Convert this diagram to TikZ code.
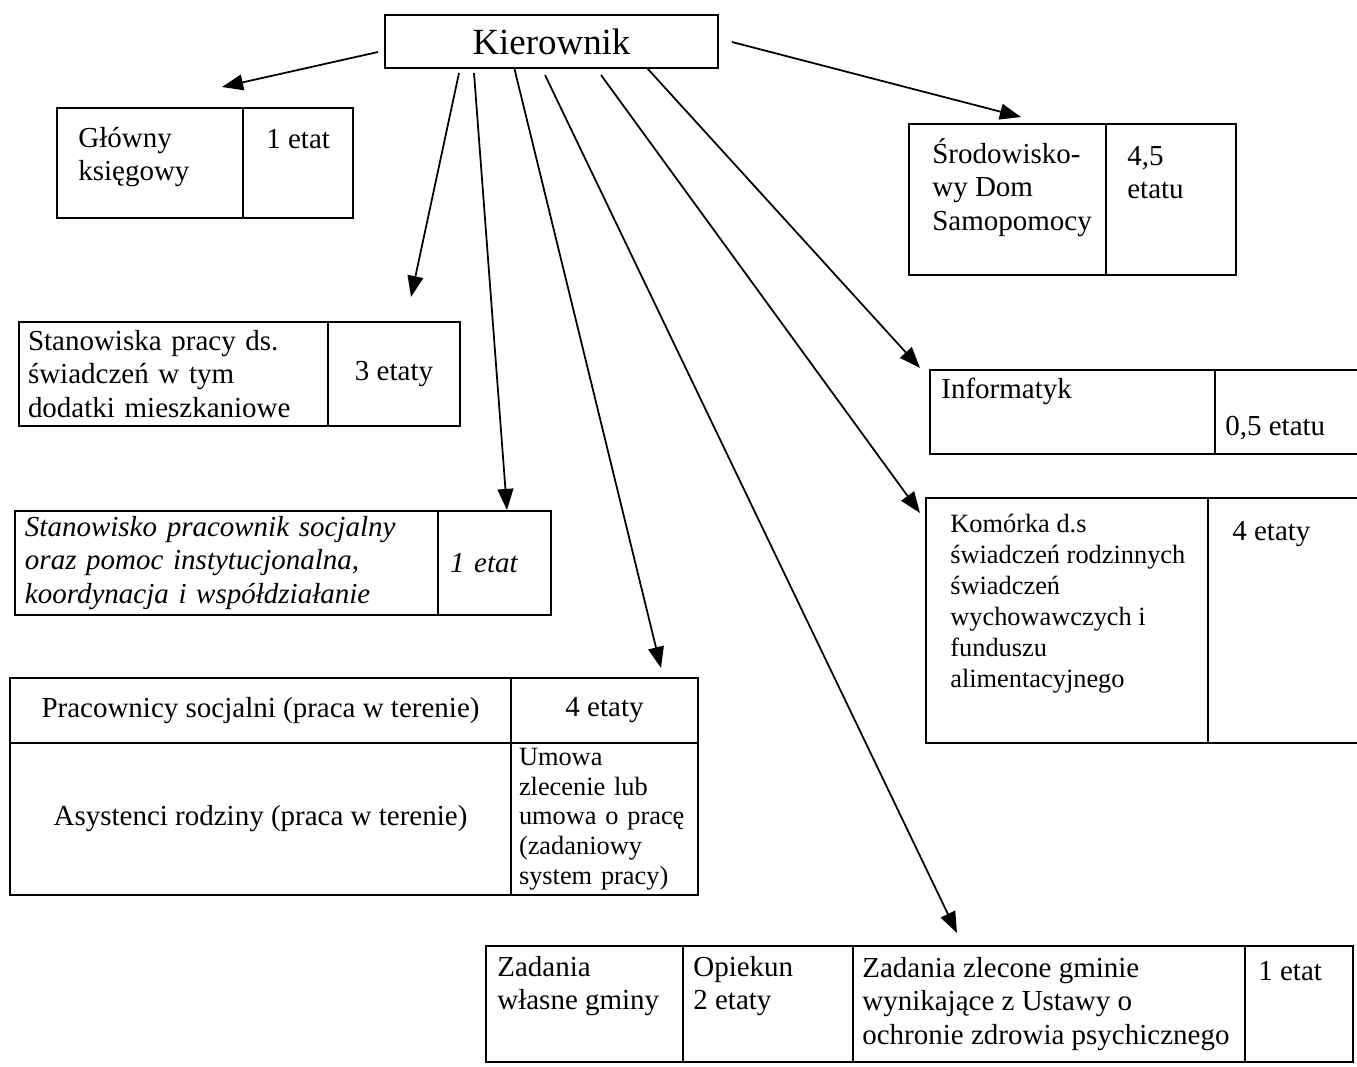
\documentclass[tikz,border=0pt]{standalone}
\usepackage{fontspec}
\setmainfont{Liberation Serif}
\usetikzlibrary{positioning, arrows.meta}
\newcommand{\orgfont}{\fontsize{16.5}{19}\selectfont}
\newcommand{\smallorgfont}{\fontsize{15}{17.6}\selectfont}

\begin{document}
\begin{tikzpicture}[
          orgbox/.style={draw, rectangle, line width=1.3pt, inner sep=0pt,
                         outer sep=0pt, anchor=north west},
          orgtxt/.style={font=\orgfont, align=left, inner sep=0pt,
                         anchor=north west},
          arr/.style={-{Triangle[length=12pt, width=9pt]}, line width=1pt}
        ]
        \useasboundingbox (0,0) rectangle (27.14,-21.32);

        % Kierownik (top)
        \node[orgbox, minimum width=6.66cm, minimum height=1.06cm,
              font=\fontsize{21}{24}\selectfont] (kier) at (7.70,-0.30)
              {Kierownik};

        % Glowny ksiegowy
        \node[orgbox, minimum width=3.72cm, minimum height=2.20cm]
              (gkL) at (1.14,-2.16) {};
        \node[orgbox, minimum width=2.20cm, minimum height=2.20cm,
              right=0pt of gkL] (gkR) {};
        \node[orgtxt, below right=0.38cm and 0.42cm of gkL.north west]
              (gkT) {Główny\\księgowy};
        \node[orgtxt, below right=0.42cm and 0.46cm of gkR.north west]
              (gkE) {1 etat};

        % Stanowiska pracy ds. swiadczen
        \node[orgbox, minimum height=2.08cm, text width=5.82cm,
              inner xsep=0.18cm, align=left, font=\orgfont]
              (stL) at (0.38,-6.44)
              {Stanowiska pracy ds.\\świadczeń w tym\\dodatki mieszkaniowe};
        \node[orgbox, minimum width=2.64cm, minimum height=2.08cm,
              font=\orgfont, right=0pt of stL] (stR) {3 etaty};

        % Stanowisko pracownik socjalny (italic)
        \node[orgbox, minimum height=2.08cm, text width=8.06cm,
              inner xsep=0.20cm, align=left, font=\orgfont\itshape]
              (ssL) at (0.30,-10.22)
              {Stanowisko pracownik socjalny\\oraz pomoc instytucjonalna,\\koordynacja i współdziałanie};
        \node[orgbox, minimum height=2.08cm, text width=1.78cm,
              inner xsep=0.24cm, align=left, font=\orgfont\itshape,
              right=0pt of ssL] (ssR) {1 etat};

        % Pracownicy socjalni / Asystenci rodziny
        \node[orgbox, minimum width=10.02cm, minimum height=1.30cm,
              font=\orgfont] (pcL) at (0.20,-13.56)
              {Pracownicy socjalni (praca w terenie)};
        \node[orgbox, minimum width=3.74cm, minimum height=1.30cm,
              font=\orgfont, right=0pt of pcL] (pcR) {4 etaty};
        \node[orgbox, minimum width=10.02cm, minimum height=3.04cm,
              font=\orgfont, below=0pt of pcL] (arL)
              {Asystenci rodziny (praca w terenie)};
        \node[orgbox, minimum height=3.04cm, text width=3.42cm,
              inner xsep=0.16cm, align=left,
              font=\fontsize{15}{16.9}\selectfont,
              right=0pt of arL] (arR)
              {Umowa\\zlecenie lub\\umowa o pracę\\(zadaniowy\\system pracy)};

        % Zadania (bottom row)
        \node[orgbox, minimum width=3.94cm, minimum height=2.32cm]
              (zw) at (9.72,-18.92) {};
        \node[orgbox, minimum width=3.40cm, minimum height=2.32cm,
              right=0pt of zw] (zo) {};
        \node[orgbox, minimum width=7.84cm, minimum height=2.32cm,
              right=0pt of zo] (zz) {};
        \node[orgbox, minimum width=2.16cm, minimum height=2.32cm,
              right=0pt of zz] (ze) {};
        \node[orgtxt, below right=0.20cm and 0.22cm of zw.north west]
              (zwT) {Zadania\\własne gminy};
        \node[orgtxt, below right=0.20cm and 0.20cm of zo.north west]
              (zoT) {Opiekun\\2 etaty};
        \node[orgtxt, below right=0.22cm and 0.18cm of zz.north west]
              (zzT) {Zadania zlecone gminie\\wynikające z Ustawy o\\ochronie zdrowia psychicznego};
        \node[orgtxt, below right=0.30cm and 0.26cm of ze.north west]
              (zeT) {1 etat};

        % Srodowiskowy Dom Samopomocy
        \node[orgbox, minimum width=3.94cm, minimum height=3.02cm]
              (srL) at (18.18,-2.48) {};
        \node[orgbox, minimum width=2.60cm, minimum height=3.02cm,
              right=0pt of srL] (srR) {};
        \node[orgtxt, below right=0.28cm and 0.46cm of srL.north west]
              (srT) {Środowisko-\\wy Dom\\Samopomocy};
        \node[orgtxt, below right=0.44cm and 0.42cm of srR.north west]
              (srE) {4,5\\etatu};

        % Informatyk
        \node[orgbox, minimum width=5.70cm, minimum height=1.68cm]
              (infL) at (18.60,-7.40) {};
        \node[orgbox, minimum width=3.00cm, minimum height=1.68cm,
              right=0pt of infL] (infR) {};
        \node[orgtxt, below right=0.16cm and 0.22cm of infL.north west]
              (infT) {Informatyk};
        \node[orgtxt, below right=0.92cm and 0.20cm of infR.north west]
              (infE) {0,5 etatu};

        % Komorka d.s swiadczen rodzinnych
        \node[orgbox, minimum width=5.64cm, minimum height=4.90cm]
              (komL) at (18.52,-9.96) {};
        \node[orgbox, minimum width=3.14cm, minimum height=4.90cm,
              right=0pt of komL] (komR) {};
        \node[orgtxt, font=\smallorgfont,
              below right=0.32cm and 0.48cm of komL.north west] (komT)
              {Komórka d.s\\świadczeń rodzinnych\\świadczeń\\wychowawczych i\\funduszu\\alimentacyjnego};
        \node[orgtxt, below right=0.46cm and 0.48cm of komR.north west]
              (komE) {4 etaty};

        % arrows from Kierownik
        \draw[arr] ([shift={(-0.14,0.32)}]kier.south west)
              -- ([shift={(3.30,0.42)}]gkL.north west);
        \draw[arr] ([shift={(1.48,-0.10)}]kier.south west)
              -- ([shift={(7.84,0.50)}]stL.north west);
        \draw[arr] ([shift={(1.78,-0.10)}]kier.south west)
              -- ([shift={(1.38,0.02)}]ssR.north west);
        \draw[arr] ([shift={(2.58,0.02)}]kier.south west)
              -- ([shift={(3.00,0.20)}]pcR.north west);
        \draw[arr] ([shift={(3.20,-0.14)}]kier.south west)
              -- ([shift={(2.08,0.26)}]zz.north west);
        \draw[arr] ([shift={(4.32,-0.14)}]kier.south west)
              -- ([shift={(-0.12,-0.30)}]komL.north west);
        \draw[arr] ([shift={(5.24,0)}]kier.south west)
              -- ([shift={(-0.20,0.04)}]infL.north west);
        \draw[arr] ([shift={(0.28,0.52)}]kier.south east)
              -- ([shift={(2.24,0.14)}]srL.north west);
      \end{tikzpicture}
\end{document}
